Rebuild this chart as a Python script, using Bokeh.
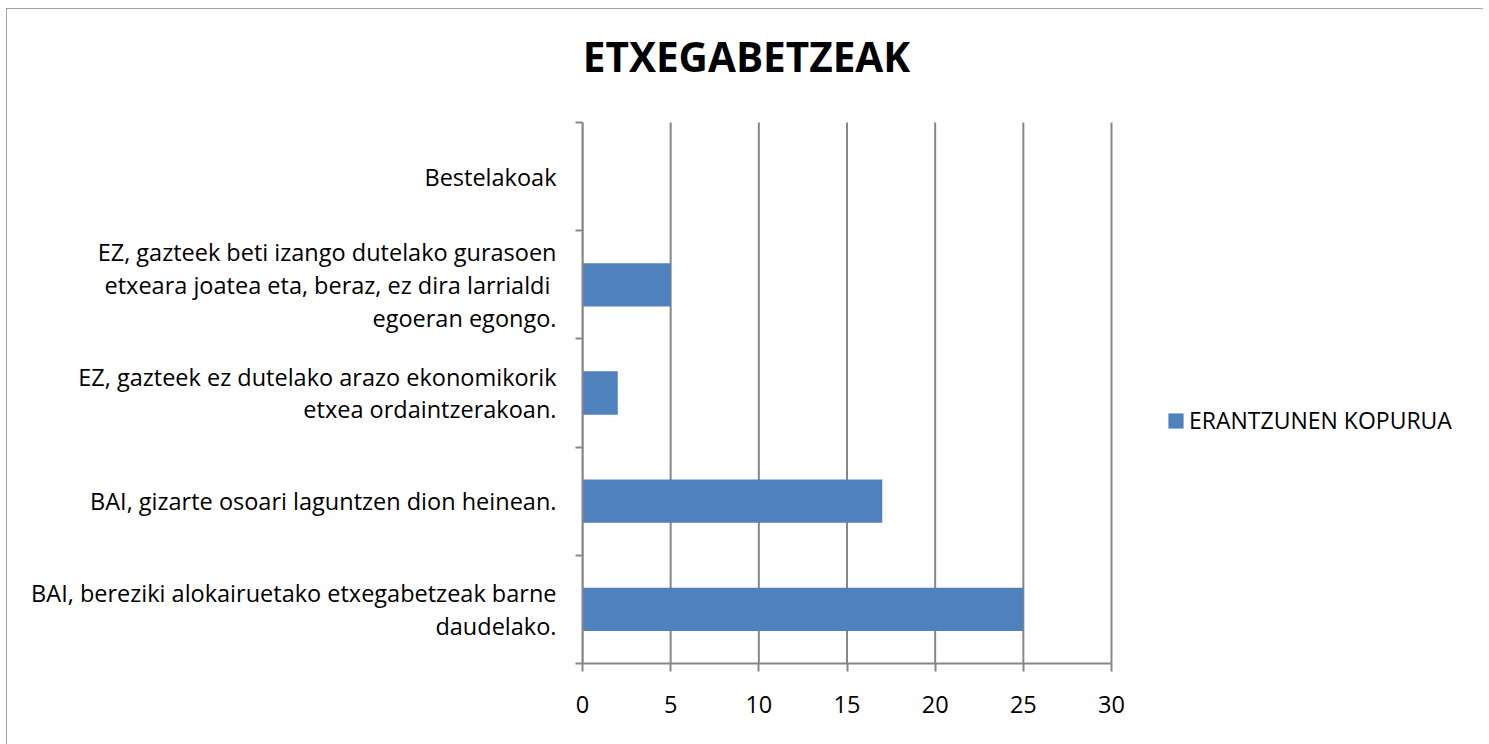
from bokeh.plotting import figure
from bokeh.models import Range1d, FixedTicker, Legend, LegendItem, ColumnDataSource, Label
from bokeh.embed import file_html
from bokeh.resources import INLINE

# ---- data ----
categories = [
    "BAI, bereziki alokairuetako etxegabetzeak barne\ndaudelako.",
    "BAI, gizarte osoari laguntzen dion heinean.",
    "EZ, gazteek ez dutelako arazo ekonomikorik\netxea ordaintzerakoan.",
    "EZ, gazteek beti izango dutelako gurasoen\netxeara joatea  eta, beraz, ez dira larrialdi\negoeran egongo.",
    "Bestelakoak",
]
values = [25, 17, 2, 5, 0]
x_ticks = [0, 5, 10, 15, 20, 25, 30]
series_name = "ERANTZUNEN KOPURUA"
title_text = "ETXEGABETZEAK"

FONT = "Open Sans"
GRAY = "#878787"
BAR = "#4F81BD"

# ---- layout (pixels) ----
FIG_W, FIG_H = 1477, 736
LEFT, RIGHT, TOP, BOTTOM = 576, 8, 4, 81          # borders around the frame
AXIS_W, AXIS_H = 529, 541                          # size of the 0..30 x 0..5 plotting area
frame_w = FIG_W - LEFT - RIGHT
frame_h = FIG_H - TOP - BOTTOM

n = len(categories)
x_max = x_ticks[-1]
x_end = x_max * frame_w / AXIS_W
y_end = n * frame_h / AXIS_H

centers = [i + 0.5 for i in range(n)]
bounds = [i for i in range(n + 1)]

src = ColumnDataSource(dict(y=centers, v=values, cat=categories))
grid_src = ColumnDataSource(dict(x=x_ticks, y0=[0] * len(x_ticks), y1=[n] * len(x_ticks)))

p = figure(width=FIG_W, height=FIG_H, output_backend="svg", toolbar_location=None,
           x_range=Range1d(0, x_end), y_range=Range1d(0, y_end),
           min_border_left=LEFT, min_border_right=RIGHT, min_border_top=TOP, min_border_bottom=BOTTOM)
p.margin = (8, 0, 0, 6)
p.outline_line_color = None
p.background_fill_color = "white"
p.border_fill_color = "white"
p.styles = {"outline": f"2px solid {GRAY}", "outline-offset": "-2px"}

# vertical grid lines limited to the 0..30 x 0..n area
p.segment(x0="x", y0="y0", x1="x", y1="y1", source=grid_src, line_color=GRAY, line_width=2)

r = p.hbar(y="y", right="v", left=0, height=0.4, source=src, fill_color=BAR, line_color=None)

# x axis
xa = p.xaxis[0]
xa.ticker = FixedTicker(ticks=x_ticks)
xa.bounds = (0, x_max)
xa.axis_line_color = GRAY
xa.axis_line_width = 2
xa.major_tick_line_color = GRAY
xa.major_tick_line_width = 2
xa.major_tick_out = 8
xa.major_tick_in = 0
xa.minor_tick_line_color = None
xa.major_label_text_font = FONT
xa.major_label_text_font_size = "23.5px"
xa.major_label_text_color = "black"
xa.major_label_standoff = 24

# y axis
ya = p.yaxis[0]
ya.ticker = FixedTicker(ticks=centers, minor_ticks=bounds)
ya.bounds = (0, n)
ya.major_label_overrides = {c: lab for c, lab in zip(centers, categories)}
ya.axis_line_color = GRAY
ya.axis_line_width = 2
ya.major_tick_line_color = None
ya.major_tick_out = 0
ya.major_tick_in = 0
ya.minor_tick_line_color = GRAY
ya.minor_tick_line_width = 2
ya.minor_tick_out = 7
ya.minor_tick_in = 0
ya.major_label_text_font = FONT
ya.major_label_text_font_size = "23.5px"
ya.major_label_text_color = "black"
ya.major_label_text_align = "center"
ya.major_label_text_line_height = 1.03
ya.major_label_standoff = 19

p.xgrid.grid_line_color = None
p.ygrid.grid_line_color = None

legend = Legend(items=[LegendItem(label=series_name, renderers=[r])],
                location=(584, 227), orientation="vertical",
                border_line_color=None, background_fill_alpha=0,
                padding=0, margin=0, glyph_width=19, glyph_height=19,
                label_standoff=4, label_text_font=FONT, label_text_font_size="23px",
                label_text_color="black", label_height=15)
p.add_layout(legend)

title = Label(x=164, y=607, x_units="screen", y_units="screen", text=title_text,
              text_font=FONT, text_font_style="bold", text_font_size="40.5px",
              text_align="center", text_baseline="alphabetic", text_color="black")
p.add_layout(title)

open("out.html", "w").write(file_html(p, INLINE))
